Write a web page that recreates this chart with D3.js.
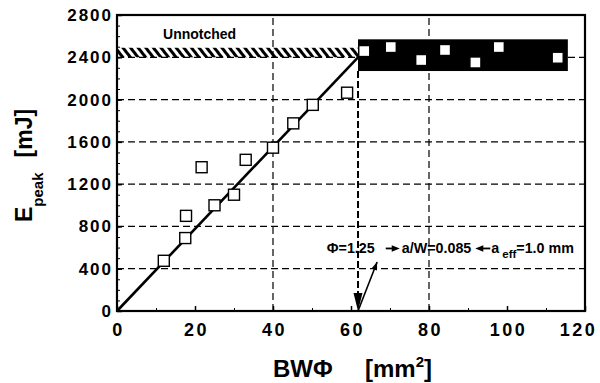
<!DOCTYPE html>
<html>
<head>
<meta charset="utf-8">
<script src="https://cdn.jsdelivr.net/npm/d3@7"></script>
<style>
  html, body { margin: 0; padding: 0; background: #fff; }
  svg { display: block; font-family: "Liberation Sans", Arial, Helvetica, sans-serif; font-weight: bold; }
</style>
</head>
<body>
<svg id="chart" width="600" height="383"></svg>
<script>
// Axis ticks
const xTicks = [0, 20, 40, 60, 80, 100, 120];
const yTicks = [0, 400, 800, 1200, 1600, 2000, 2400, 2800];
const xMinor = d3.range(0, 121, 10);
const yMinor = d3.range(0, 2801, 100);
const gridX = [40, 80];
const gridY = [400, 800, 1200, 1600, 2000, 2400];

// Notched specimens below the transition (open squares)
const rampBW = [12, 17.5, 17.7, 21.7, 25, 30, 33, 40, 45.2, 50.2, 59];
const rampE  = [475, 690, 900, 1360, 1000, 1100, 1430, 1545, 1775, 1950, 2065];

// Specimens above the transition (inside the scatter band)
const plateauBW = [63.4, 70.2, 78.0, 84.1, 91.9, 97.9, 113.0];
const plateauE  = [2459, 2497, 2374, 2469, 2351, 2497, 2396];

// Unnotched level and scatter band
const unnotchedE = 2400;
const unnotchedBand = [2400, 2490];
const criticalBW = 61.8;
const scatterBandBW = [61.8, 115.6];
const scatterBandE = [2270, 2570];
const pointerEnd = [66.7, 463];

const svg = d3.select("#chart");
const x = d3.scaleLinear().domain([0, 120]).range([117, 585]);
const y = d3.scaleLinear().domain([0, 2800]).range([311, 15]);

// hatch pattern for the unnotched band
const defs = svg.append("defs");
const pat = defs.append("pattern")
  .attr("id", "hatch").attr("patternUnits", "userSpaceOnUse")
  .attr("width", 6).attr("height", 6)
  .attr("patternTransform", "rotate(-38)");
pat.append("rect").attr("x", 0).attr("y", 0).attr("width", 3).attr("height", 6).attr("fill", "#000");

// grid
const grid = svg.append("g").attr("stroke", "#000").attr("stroke-width", 1.2).attr("stroke-dasharray", "7,4");
grid.selectAll(".gy").data(gridY).join("line")
  .attr("x1", x(0)).attr("x2", x(120)).attr("y1", d => y(d)).attr("y2", d => y(d));
grid.selectAll(".gx").data(gridX).join("line")
  .attr("x1", d => x(d)).attr("x2", d => x(d)).attr("y1", y(0)).attr("y2", y(2800));

// unnotched hatched band
svg.append("rect")
  .attr("x", x(0)).attr("width", x(criticalBW) - x(0))
  .attr("y", y(unnotchedBand[1])).attr("height", y(unnotchedBand[0]) - y(unnotchedBand[1]))
  .attr("fill", "url(#hatch)");

// scatter band
svg.append("rect")
  .attr("x", x(scatterBandBW[0])).attr("width", x(scatterBandBW[1]) - x(scatterBandBW[0]))
  .attr("y", y(scatterBandE[1])).attr("height", y(scatterBandE[0]) - y(scatterBandE[1]))
  .attr("fill", "#000");

// critical vertical line with arrow head
svg.append("line")
  .attr("x1", x(criticalBW)).attr("x2", x(criticalBW))
  .attr("y1", y(scatterBandE[0])).attr("y2", y(0) - 14)
  .attr("stroke", "#000").attr("stroke-width", 2).attr("stroke-dasharray", "7,3");
const cx = x(criticalBW), cy = y(0);
svg.append("path")
  .attr("d", `M${cx},${cy} L${cx - 4.5},${cy - 18} L${cx + 4.5},${cy - 18} Z`)
  .attr("fill", "#000");

// pointer from label to axis
const px0 = x(criticalBW), py0 = y(0), px1 = x(pointerEnd[0]), py1 = y(pointerEnd[1]);
svg.append("line").attr("x1", px0).attr("y1", py0).attr("x2", px1).attr("y2", py1)
  .attr("stroke", "#000").attr("stroke-width", 1.6);
{
  const ang = Math.atan2(py1 - py0, px1 - px0);
  const L = 8, W = 3;
  const bx = px1 - L * Math.cos(ang), by = py1 - L * Math.sin(ang);
  const nx = -Math.sin(ang) * W, ny = Math.cos(ang) * W;
  svg.append("path")
    .attr("d", `M${px1},${py1} L${bx + nx},${by + ny} L${bx - nx},${by - ny} Z`)
    .attr("fill", "#000");
}

// linear trend to unnotched level
svg.append("line")
  .attr("x1", x(0)).attr("y1", y(0))
  .attr("x2", x(criticalBW)).attr("y2", y(unnotchedE))
  .attr("stroke", "#000").attr("stroke-width", 2.6);

// data squares
const S = 11;
const ramp = rampBW.map((b, i) => [b, rampE[i]]);
svg.append("g").selectAll("rect").data(ramp).join("rect")
  .attr("x", d => x(d[0]) - S / 2).attr("y", d => y(d[1]) - S / 2)
  .attr("width", S).attr("height", S)
  .attr("fill", "#fff").attr("stroke", "#000").attr("stroke-width", 1.4);
const plateau = plateauBW.map((b, i) => [b, plateauE[i]]);
svg.append("g").selectAll("rect").data(plateau).join("rect")
  .attr("x", d => x(d[0]) - S / 2).attr("y", d => y(d[1]) - S / 2)
  .attr("width", S).attr("height", S)
  .attr("fill", "#fff").attr("stroke", "#000").attr("stroke-width", 1.4);

// frame
svg.append("rect")
  .attr("x", x(0)).attr("y", y(2800))
  .attr("width", x(120) - x(0)).attr("height", y(0) - y(2800))
  .attr("fill", "none").attr("stroke", "#000").attr("stroke-width", 2.2);

// axes
const tickFont = (size, ls) => g => g.selectAll("text")
  .attr("font-size", size).attr("font-weight", "bold")
  .attr("letter-spacing", ls).attr("fill", "#000")
  .attr("font-family", "Liberation Sans, Arial, sans-serif");

const xAxis = svg.append("g").attr("transform", `translate(0,${y(0)})`)
  .call(d3.axisBottom(x).tickValues(xTicks).tickSizeInner(-5).tickSizeOuter(0).tickPadding(12).tickFormat(d3.format("d")));
xAxis.select(".domain").remove();
xAxis.call(tickFont(18, 2.5));
xAxis.selectAll("text").attr("dx", d => d === 120 ? -7 : 1);
xAxis.selectAll("line").attr("stroke-width", 1.5);

const xAxisMinor = svg.append("g").attr("transform", `translate(0,${y(0)})`)
  .call(d3.axisBottom(x).tickValues(xMinor).tickSizeInner(-3).tickSizeOuter(0).tickFormat(""));
xAxisMinor.select(".domain").remove();

const yAxis = svg.append("g").attr("transform", `translate(${x(0)},0)`)
  .call(d3.axisLeft(y).tickValues(yTicks).tickSizeInner(-5).tickSizeOuter(0).tickPadding(6).tickFormat(d3.format("d")));
yAxis.select(".domain").remove();
yAxis.call(tickFont(17, 2));
yAxis.selectAll("text").attr("dx", 2);
yAxis.selectAll("line").attr("stroke-width", 1.5);

const yAxisMinor = svg.append("g").attr("transform", `translate(${x(0)},0)`)
  .call(d3.axisLeft(y).tickValues(yMinor).tickSizeInner(-3).tickSizeOuter(0).tickFormat(""));
yAxisMinor.select(".domain").remove();

// Unnotched label
svg.append("text").attr("x", x(11.8)).attr("y", 39)
  .attr("font-size", 14).text("Unnotched");

// annotation chain
const annY = y(550);
const annSize = 14.3;
let cur = x(53.8);
function piece(str, size, shift) {
  const t = svg.append("text").attr("x", cur).attr("y", annY + (shift || 0))
    .attr("font-size", size).text(str);
  cur += t.node().getComputedTextLength();
  return t;
}
function arrow(dir, len) {
  const yy = annY - 4.4;
  const x0 = cur, x1 = cur + len;
  const head = 8;
  if (dir > 0) {
    svg.append("line").attr("x1", x0).attr("x2", x1 - head + 1).attr("y1", yy).attr("y2", yy)
      .attr("stroke", "#000").attr("stroke-width", 1.8);
    svg.append("path").attr("d", `M${x1},${yy} L${x1 - head},${yy - 3.2} L${x1 - head},${yy + 3.2} Z`).attr("fill", "#000");
  } else {
    svg.append("line").attr("x1", x0 + head - 1).attr("x2", x1).attr("y1", yy).attr("y2", yy)
      .attr("stroke", "#000").attr("stroke-width", 1.8);
    svg.append("path").attr("d", `M${x0},${yy} L${x0 + head},${yy - 3.2} L${x0 + head},${yy + 3.2} Z`).attr("fill", "#000");
  }
  cur = x1;
}
piece("Φ=1.25", annSize);
cur += 11;
arrow(1, 14);
cur += 2;
piece("a/W=0.085", annSize);
cur += 4;
arrow(-1, 15);
cur += 1;
piece("a", annSize);
cur += 3;
piece("eff", 11.5, 5);
piece("=1.0 mm", annSize);

// axis titles
svg.append("text").attr("x", 273).attr("y", 377).attr("font-size", 24).text("BWΦ");
const xt2 = svg.append("text").attr("x", 365).attr("y", 377).attr("font-size", 24);
xt2.append("tspan").text("[mm");
xt2.append("tspan").attr("font-size", 15).attr("dy", -10).text("2");
xt2.append("tspan").attr("dy", 10).text("]");

const yt = svg.append("text").attr("transform", "translate(32,222) rotate(-90)").attr("font-size", 23);
yt.append("tspan").text("E");
yt.append("tspan").attr("font-size", 15).attr("dy", 11).text("peak");
yt.append("tspan").attr("dy", -11).attr("dx", 15).text("[mJ]");
</script>
</body>
</html>
